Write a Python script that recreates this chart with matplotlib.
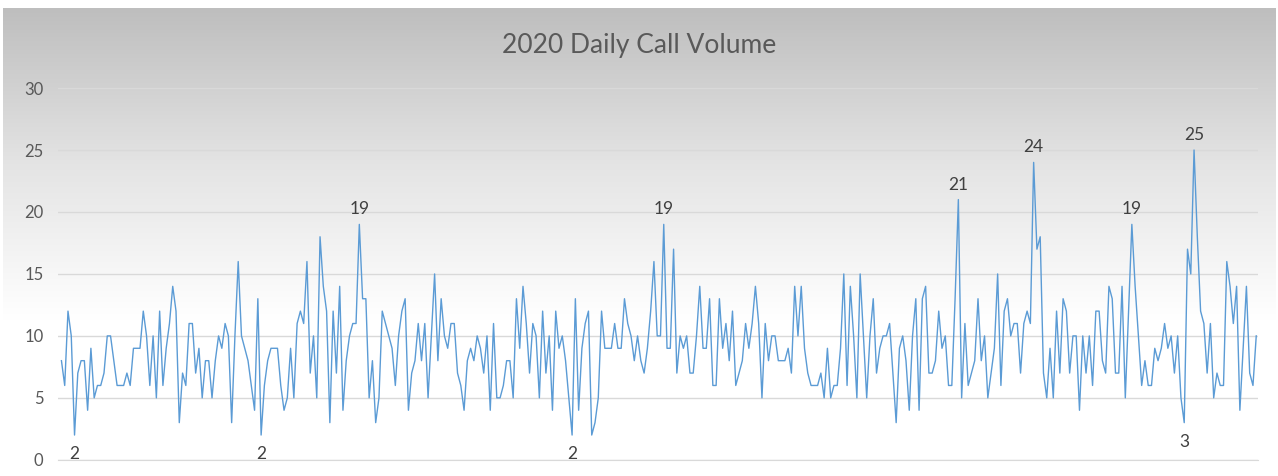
import matplotlib
matplotlib.use("Agg")
import matplotlib.pyplot as plt
import numpy as np

# ── Data (one value per day) ─────────────────────────────────────────────────
CALLS = [
    8, 6, 12, 10, 2, 7, 8, 8, 4, 9, 5, 6, 6, 7, 10, 10, 8, 6, 6, 6, 7, 6, 9, 9,
    9, 12, 10, 6, 10, 5, 12, 6, 9, 11, 14,
    12, 3, 7, 6, 11, 11, 7, 9, 5, 8, 8, 5, 8, 10, 9, 11, 10, 3, 10, 16, 10, 9,
    8, 6, 4, 13, 2, 6, 8, 9, 9, 9, 6, 4, 5, 9, 5, 11, 12, 11,
    16, 7, 10, 5, 18, 14, 12, 3, 12, 7, 14, 4, 8, 10, 11, 11, 19, 13, 13, 5, 8,
    3, 5, 12, 11, 10, 9, 6, 10, 12, 13, 4, 7, 8,
    11, 8, 11, 5, 10, 15, 8, 13, 10, 9, 11, 11, 7, 6, 4, 8, 9, 8, 10, 9, 7, 10,
    4, 11, 5, 5, 6, 8, 8, 5, 13, 9, 14, 11, 7, 11, 10,
    5, 12, 7, 10, 4, 12, 9, 10, 8, 5, 2, 13, 4, 9, 11, 12, 2, 3, 5, 12, 9, 9, 9,
    11, 9, 9, 13, 11, 10, 8, 10, 8, 7, 9, 12, 16,
    10, 10, 19, 9, 9, 17, 7, 10, 9, 10, 7, 7, 10, 14, 9, 9, 13, 6, 6, 13, 9, 11,
    8, 12, 6, 7, 8, 11, 9, 11, 14, 11, 5, 11, 8, 10,
    10, 8, 8, 8, 9, 7, 14, 10, 14, 9, 7, 6, 6, 6, 7, 5, 9, 5, 6, 6, 9, 15, 6,
    14, 10, 5, 15, 10, 5, 10, 13, 7, 9, 10, 10, 11, 7, 3,
    9, 10, 8, 4, 10, 13, 4, 13, 14, 7, 7, 8, 12, 9, 10, 6, 6, 13, 21, 5, 11, 6,
    7, 8, 13, 8, 10, 5, 7, 9, 15, 6, 12, 13, 10, 11, 11,
    7, 11, 12, 11, 24, 17, 18, 7, 5, 9, 5, 12, 7, 13, 12, 7, 10, 10, 4, 10, 7,
    10, 6, 12, 12, 8, 7, 14, 13, 7, 7, 14, 5, 12, 19,
    14, 10, 6, 8, 6, 6, 9, 8, 9, 11, 9, 10, 7, 10, 5, 3, 17, 15, 25, 18, 12, 11,
    7, 11, 5, 7, 6, 6, 16, 14, 11, 14, 4, 9, 14, 7, 6, 10,
]

# Days that carry a data label in the reference: (day index, above/below)
LABEL_DAYS = [(4, "below"), (61, "below"), (91, "above"), (156, "below"),
              (184, "above"), (274, "above"), (297, "above"), (327, "above"),
              (343, "below"), (346, "above")]

Y_TICKS = [0, 5, 10, 15, 20, 25, 30]
TITLE = "2020 Daily Call Volume"

LINE_COLOR = "#5B9BD5"
TEXT_COLOR = "#595959"
GRID_COLOR = "#D9D9D9"

plt.rcParams["font.family"] = ["Lato", "DejaVu Sans"]

fig = plt.figure(figsize=(12.78, 4.76), dpi=100)

# grey-to-white gradient behind everything
bg = fig.add_axes([0.002, 0.0, 0.996, 0.983], zorder=0)
grad = np.linspace(0.0, 1.0, 256).reshape(-1, 1)
cmap = matplotlib.colors.LinearSegmentedColormap.from_list(
    "bg", ["#BEBEBE", "#E4E4E4", "#FFFFFF", "#FFFFFF"])
bg.imshow(grad, aspect="auto", cmap=cmap, extent=[0, 1, 0, 1], origin="upper")
bg.axis("off")

ax = fig.add_axes([0.045, 0.034, 0.939, 0.781], zorder=1)
ax.patch.set_alpha(0)

days = np.arange(len(CALLS))
ax.plot(days, CALLS, color=LINE_COLOR, linewidth=1.0, zorder=3)

ax.set_ylim(0, 30)
ax.set_xlim(-1.2, len(CALLS) - 0.6)
ax.set_yticks(Y_TICKS)
ax.set_xticks([])
ax.grid(axis="y", color=GRID_COLOR, linewidth=1.0)
ax.set_axisbelow(True)
for side in ["top", "right", "left"]:
    ax.spines[side].set_visible(False)
ax.spines["bottom"].set_color(GRID_COLOR)
ax.tick_params(axis="y", length=0, pad=10, labelsize=12, labelcolor=TEXT_COLOR)

for idx, pos in LABEL_DAYS:
    val = CALLS[idx]
    if pos == "above":
        ax.annotate(str(val), (idx, val), xytext=(0, 5), textcoords="offset points",
                    ha="center", va="bottom", fontsize=12.5, color="#404040")
    else:
        ax.annotate(str(val), (idx, val), xytext=(0, -8), textcoords="offset points",
                    ha="center", va="top", fontsize=12.5, color="#404040",
                    annotation_clip=False)

fig.text(0.5, 0.905, TITLE, ha="center", va="center", fontsize=19, color=TEXT_COLOR)

fig.savefig("out.png", dpi=100)
